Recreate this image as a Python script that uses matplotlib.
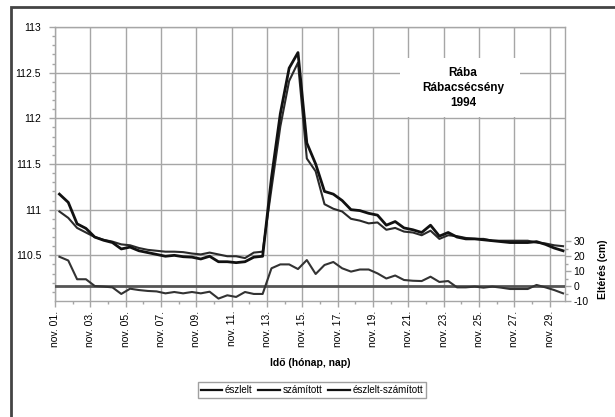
import matplotlib
matplotlib.use('Agg')
import matplotlib.pyplot as plt
from matplotlib.patches import Rectangle
import matplotlib.dates as mdates
import numpy as np
import pandas as pd

plt.rcParams['font.family'] = ['Liberation Sans', 'DejaVu Sans']
plt.rcParams['font.size'] = 7.5
plt.rcParams['axes.unicode_minus'] = False

# 12-hourly readings, Rába at Rábacsécsény, November 1994
times = pd.date_range('1994-11-01 06:00', periods=58, freq='12h')

eszlelt = [111.17, 111.08, 110.845, 110.795, 110.70, 110.665, 110.64, 110.57, 110.59, 110.55,
           110.53, 110.51, 110.49, 110.50, 110.485, 110.48, 110.46, 110.49, 110.43, 110.43,
           110.42, 110.43, 110.48, 110.49, 111.35, 112.05, 112.55, 112.72, 111.73, 111.50,
           111.20, 111.17, 111.10, 111.00, 110.99, 110.96, 110.94, 110.83, 110.87, 110.80,
           110.78, 110.75, 110.83, 110.71, 110.75, 110.70, 110.68, 110.68, 110.67, 110.66,
           110.65, 110.64, 110.64, 110.64, 110.65, 110.62, 110.58, 110.55]

szamitott = [110.98, 110.91, 110.80, 110.75, 110.70, 110.67, 110.65, 110.62, 110.61, 110.58,
             110.56, 110.55, 110.54, 110.54, 110.535, 110.52, 110.51, 110.53, 110.51, 110.49,
             110.49, 110.47, 110.53, 110.54, 111.23, 111.91, 112.41, 112.61, 111.56, 111.42,
             111.06, 111.01, 110.98, 110.90, 110.88, 110.85, 110.86, 110.78, 110.80, 110.76,
             110.75, 110.72, 110.77, 110.68, 110.72, 110.71, 110.69, 110.68, 110.68, 110.66,
             110.66, 110.66, 110.66, 110.66, 110.64, 110.63, 110.61, 110.60]

# observed minus computed, in cm
elteres = [19.5, 17.0, 4.5, 4.5, 0.0, -0.4, -0.9, -5.3, -1.8, -2.7,
           -3.3, -3.6, -4.9, -4.0, -4.9, -4.0, -4.9, -3.8, -8.4, -6.2,
           -7.3, -4.0, -5.3, -5.3, 11.8, 14.4, 14.4, 11.3, 17.3, 8.0,
           14.0, 16.0, 11.8, 9.6, 11.0, 11.0, 8.4, 5.0, 7.0, 4.0,
           3.5, 3.3, 6.2, 2.7, 3.3, -0.9, -0.9, -0.4, -1.1, -0.4,
           -1.1, -2.0, -2.0, -2.0, 0.7, -0.9, -2.7, -4.9]

day_labels = ['nov. 01.', 'nov. 03.', 'nov. 05.', 'nov. 07.', 'nov. 09.', 'nov. 11.',
              'nov. 13.', 'nov. 15.', 'nov. 17.', 'nov. 19.', 'nov. 21.', 'nov. 23.',
              'nov. 25.', 'nov. 27.', 'nov. 29.']
level_ticks = [110.5, 111, 111.5, 112, 112.5, 113]
level_labels = ['110.5', '111', '111.5', '112', '112.5', '113']
diff_ticks = [-10, 0, 10, 20, 30]

grid_c = '#a6a6a6'

fig = plt.figure(figsize=(6.15, 4.17), dpi=100)
ax = fig.add_axes([55/615, 1-301/417, 510/615, 274/417])

l1, = ax.plot(times, eszlelt, color='#111111', lw=2.0, zorder=4)
l2, = ax.plot(times, szamitott, color='#2a2a2a', lw=1.5, zorder=3)

start = pd.Timestamp('1994-11-01')
ax.set_xlim(start, start + pd.Timedelta(hours=28.86*24))
ax.set_ylim(110.0, 113.0)

tick_days = [start + pd.Timedelta(days=2*i) for i in range(len(day_labels))]
ax.set_xticks(tick_days)
ax.set_xticklabels(day_labels, rotation=90)
ax.xaxis.set_minor_locator(mdates.DayLocator())
ax.set_yticks(level_ticks)
ax.set_yticklabels(level_labels)
ax.set_yticks(np.arange(110.1, 113.0, 0.1), minor=True)

ax.grid(True, which='major', color=grid_c, lw=1.0)
ax.set_axisbelow(True)
for s in ax.spines.values():
    s.set_color(grid_c)
    s.set_linewidth(1.0)
ax.tick_params(which='both', direction='out', color=grid_c, length=4, width=1, pad=2)
ax.tick_params(which='minor', length=2.5)
ax.tick_params(axis='y', pad=6)
ax.tick_params(axis='x', pad=3)

ax.set_xlabel('Idő (hónap, nap)', fontweight='bold', fontsize=7.5, labelpad=8)

ax2 = ax.twinx()
l3, = ax2.plot(times, elteres, color='#333333', lw=1.5, zorder=3)
ax2.axhline(0, color='#555555', lw=2.0, zorder=2)
ax2.set_ylim(-10, -10 + 274/1.5)
ax2.set_yticks(diff_ticks)
ax2.set_yticks([-5, 5, 15, 25], minor=True)
ax2.tick_params(which='both', direction='out', color=grid_c, length=4, width=1, pad=2)
ax2.tick_params(which='minor', length=2.5)
for s in ax2.spines.values():
    s.set_visible(False)
ax2.text((603-55)/510, 0.115, 'Eltérés (cm)', transform=ax.transAxes, rotation=90,
         ha='center', va='center', fontweight='bold', fontsize=7.5)

# station name box
ax.add_patch(Rectangle(((400-55)/510, (301-117)/274), 120/510, 59/274,
                       transform=ax.transAxes, facecolor='white', edgecolor='none', zorder=2.5))
ax.text((463-55)/510, (301-88)/274, 'Rába\nRábacsécsény\n1994', transform=ax.transAxes,
        ha='center', va='center', fontweight='bold', fontsize=8.5, linespacing=1.3, zorder=5)

leg = fig.legend([l1, l2, l3], ['észlelt', 'számított', 'észlelt-számított'],
                 loc='center', bbox_to_anchor=(312/615, 1-390/417), ncol=3, fontsize=7,
                 frameon=True, fancybox=False, edgecolor='#888888', handlelength=2.2,
                 handletextpad=0.3, columnspacing=0.6, borderpad=0.3)
leg.get_frame().set_linewidth(1.0)
for h in leg.get_lines():
    h.set_linewidth(1.6)
    h.set_color('#111111')

fig.patches.append(Rectangle((10.5/615, -0.1), 1.0, 1.1 - 7.5/417, transform=fig.transFigure,
                             fill=False, edgecolor='#444444', lw=2.0))

fig.savefig('out.png', dpi=100)
